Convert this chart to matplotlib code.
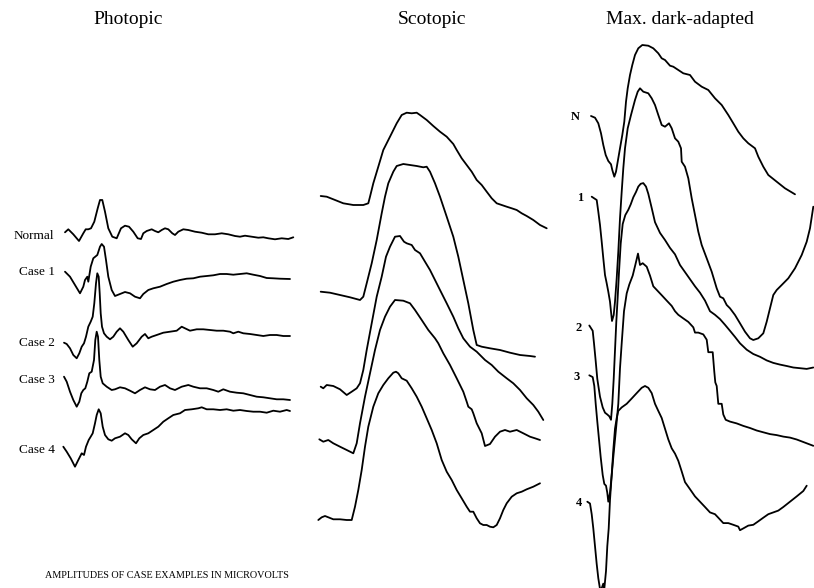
import matplotlib
matplotlib.use("Agg")
import matplotlib.pyplot as plt

# ---------------- data (traces: time -> amplitude) ----------------
panel_titles = ["Photopic", "Scotopic", "Max. dark-adapted"]
photopic_labels = ["Normal", "Case 1", "Case 2", "Case 3", "Case 4"]
dark_labels = ["N", "1", "2", "3", "4"]
footnote = "AMPLITUDES OF CASE EXAMPLES IN MICROVOLTS"

photopic_normal = [(65,232.3),(68.3,229.3),(73.3,234.3),(79,241),(83.3,233.3),(85.7,229.3),(88.3,229.3),(91,228.3),
    (94.3,221.7),(97.7,208.3),(100,200),(102.3,200),(105,211.7),(108.3,228.3),(112.3,236.7),(116.7,238.3),(121,228.3),
    (125,225.7),(129,226.7),(133.3,231.7),(137.7,238.3),(141,239),(143.3,233.3),(146.7,231),(151.7,229.3),(155,231),
    (158.3,232.3),(161.7,230),(165,228.3),(168.3,229.3),(172.3,233.3),(175,235),(178.3,231.7),(183.3,229.3),(188.3,230),
    (195,231.7),(201.7,232.7),(208.3,234.3),(215,234.3),(221.7,233.3),(228.3,234.3),(235,236),(240,236.7),(245,235.7),
    (251.7,236.7),(258.3,237.7),(263.3,237.3),(268.3,238.3),(275,239.3),(281.7,238.3),(288.3,239),(293.3,237.3)]
photopic_case1 = [(65,271.7),(70,276.7),(75,285),(80,293.3),(83.3,286.7),(85,280),(87.3,276.7),(88.3,281.7),(90.7,266.7),
    (93.3,258.3),(97.3,255),(100,246.7),(101.7,244),(104,246.7),(106,260),(108.3,276.7),(111.7,290),(115,296),(120,294),
    (125,292),(130,293.3),(135,296.7),(140,298.3),(143.3,294),(148.3,290),(153.3,288.3),(160,286.7),(166.7,284),
    (173.3,281.7),(180,280),(186.7,278.7),(193.3,278.3),(200,276.7),(206.7,276),(213.3,275.3),(220,274),(226.7,274),
    (233.3,274.7),(240,274),(246.7,273.3),(253.3,274.7),(260,276),(266.7,278),(273.3,278.3),(280,278.7),(290,279)]
photopic_case2 = [(64,342.7),(66.7,344),(70,348.3),(73.3,355),(76.7,358.3),(79.3,353.3),(81.7,346.7),(84,343.3),(86,336.7),
    (88.3,326.7),(90.7,321.7),(92.7,316.7),(94.3,303.3),(96,283.3),(97.3,273.3),(98.7,276.7),(99.7,293.3),(100.7,313.3),
    (102,326.7),(104,333.3),(106.7,336.7),(110,339.3),(113.3,336.7),(116.7,331.7),(120,328.3),(123.3,331.7),(128.3,340),
    (132.7,346.7),(136.7,343.3),(141.7,336.7),(145,334),(148.3,338.3),(151.7,336.7),(156.7,335),(163.3,332.7),(170,331.7),
    (176.7,330.7),(181.7,326.7),(185,328.3),(190,330.7),(196.7,329.3),(203.3,329.3),(210,330),(216.7,330.7),(223.3,330.7),
    (230,331.7),(233.3,333.3),(238.3,331.7),(243.3,333.3),(250,334),(256.7,335),(263.3,336),(270,335),(276.7,335),
    (283.3,336),(290,336)]
photopic_case3 = [(64,376.7),(66.7,381.7),(70,391.7),(73.3,400),(76.7,406.7),(79.3,401.7),(81.3,393.3),(83.3,390),
    (85.3,388.3),(87.3,381.7),(89.3,373.3),(91.7,371.7),(94,360),(95.3,340),(96.7,331.7),(98,336.7),(99.3,360),
    (100.7,376.7),(102.7,383.3),(106.7,386.7),(111.7,390),(115,389.3),(120,387.3),(125,388.3),(130,390.7),(135,393.3),
    (140,390),(145,387.3),(150,389.3),(155,390),(160,386.7),(165,385),(170,388.3),(175,390),(181.7,386.7),(188.3,385),
    (193.3,386.7),(200,388.3),(206.7,388.3),(213.3,390),(218.3,391.7),(223.3,389.3),(230,391.7),(236.7,392.7),
    (243.3,393.3),(250,395),(256.7,396.7),(263.3,397.3),(270,398.3),(276.7,399.3),(283.3,399.3),(290,400)]
photopic_case4 = [(63.3,446.7),(66.7,451.7),(70.7,458.3),(75,466.7),(78.3,460),(81.7,453.3),(84,455),(86,446.7),
    (88.7,440),(90.7,436.7),(92.7,433.3),(95,423.3),(96.7,415),(98.7,409.3),(100.7,413.3),(102.7,426.7),(105,435),
    (108.3,439.3),(111.7,440.7),(115,438.3),(120,436.7),(125,433.3),(128.3,435),(131.7,439.3),(136,443.3),(139.3,438.3),
    (143.3,435),(148.3,433.3),(153.3,430),(158.3,426.7),(163.3,421.7),(168.3,418.3),(173.3,415),(180,413.3),(185,410),
    (191.7,409.3),(198.3,408.3),(201.7,407.3),(206.7,409.3),(213.3,409.3),(220,410),(226.7,409.3),(233.3,410.7),
    (240,410),(246.7,411),(253.3,411.7),(260,411.7),(266.7,412.7),(273.3,410.7),(280,411.7),(286.7,410),(290,411)]

scotopic_normal = [(320.7,196),(326.7,196.7),(333.3,199.3),(343.3,203.3),(353.3,205),(363.3,205),(368.3,203.3),(370,196.7),
    (373.3,183.3),(378.3,166.7),(383.3,150),(390,136.7),(396.7,123.3),(401.7,115),(406.7,112.7),(411.7,113.3),
    (416.7,112.7),(420,115),(426.7,120),(433.3,126),(440,131.7),(446.7,136.7),(453.3,144),(456.7,150),(461.7,158.3),
    (466.7,165),(471.7,171.7),(476.7,180),(481.7,185),(486.7,191.7),(491.7,198.3),(496.7,203.3),(501.7,205),
    (506.7,206.7),(511.7,208.3),(516.7,210),(521.7,213.3),(526.7,216),(533.3,220),(540,225),(546.7,228.3)]
scotopic_case1 = [(320.7,291.7),(330,292.7),(340,295),(350,297.3),(360,300),(363.3,296.7),(366.7,283.3),(371.7,263.3),
    (376.7,240),(381.7,213.3),(385,196.7),(388.3,183.3),(393.3,171.7),(396.7,166),(403.3,164),(410,165),(416.7,166),
    (423.3,167.3),(426.7,166.7),(430,171.7),(435,183.3),(440,196.7),(446.7,216.7),(453.3,236.7),(458.3,256.7),
    (463.3,280),(468.3,303.3),(473.3,330),(476.7,345),(481.7,346.7),(490,348.3),(500,350),(510,352.7),(520,355),
    (530,356),(535,356.7)]
scotopic_case2 = [(320.7,386.7),(323.3,388.3),(326.7,385),(333.3,386),(340,389.3),(346.7,395),(351.7,391.7),(356.7,388.3),
    (360,383.3),(363.3,370),(366.7,350),(371.7,323.3),(376.7,296.7),(381.7,276.7),(386,256.7),(390,246.7),(395,236.7),
    (400,236),(404,241.7),(406.7,243.3),(411.7,245),(415,250),(420,253.3),(425,261.7),(430,270),(435,280),(440,290),
    (446.7,303.3),(453.3,316.7),(458.3,328.3),(463.3,338.3),(470,346.7),(476.7,351.7),(485,360),(491.7,365),
    (498.3,371.7),(506.7,378.3),(513.3,383.3),(520,390),(526.7,398.3),(533.3,405),(538.3,411.7),(543.3,420)]
scotopic_case3 = [(319.3,439.3),(323.3,441.7),(328.3,440),(333.3,443.3),(340,446.7),(346.7,450),(353.3,453.3),
    (356.7,443.3),(360,423.3),(365,396.7),(370,373.3),(375,350),(380,330),(385,316.7),(390,306.7),(395,300),
    (403.3,300.7),(410,303.3),(415,310),(421.7,320),(428.3,330),(435,338.3),(438.3,343.3),(443.3,353.3),(450,365),
    (456.7,378.3),(463.3,391.7),(466.7,401.7),(468.3,406.7),(471.7,409.3),(473.3,413.3),(476.7,423.3),(481.7,433.3),
    (485,446),(490,444),(495,436.7),(500,431.7),(505,430),(510,431.7),(516.7,430),(523.3,433.3),(530,436.7),
    (535,438.3),(540,440)]
scotopic_case4 = [(318.3,520),(321.7,517.3),(325,516),(328.3,517.3),(333.3,519.3),(340,519.3),(346.7,520),(351.7,520),
    (355,506.7),(358.3,490),(361.7,470),(365,446.7),(368.3,426.7),(373.3,406.7),(378.3,393.3),(383.3,385),(388.3,378.3),
    (393.3,372.7),(396,371.7),(398.3,373.3),(401.7,378.3),(406.7,380.7),(411.7,388.3),(416.7,396.7),(421.7,406.7),
    (426.7,418.3),(431.7,430),(436.7,443.3),(441.7,460),(446.7,471.7),(451.7,480),(456.7,490),(461.7,498.3),
    (466.7,506.7),(470,511.7),(473.3,511.7),(476.7,518.3),(480,523.3),(483.3,525),(486.7,525),(490,526.7),(493.3,527.3),
    (496.7,525),(500,518.3),(503.3,510),(506.7,503.3),(511.7,496.7),(516.7,493.3),(521.7,491.7),(526.7,489.3),
    (533.3,486.7),(540,483.3)]

dark_normal = [(591,116),(595,117.7),(598.3,123.3),(601,133.3),(603.3,145),(605.7,155),(608.3,161),(611,164.3),
    (612.3,170),(614.3,176.7),(616,171.7),(617.7,161.7),(620,148.3),(622.3,135),(624.3,121.7),(626,101.7),(627.7,88.3),
    (630,75),(632.3,65),(635,55),(638.3,48.3),(642.3,45),(648.3,45.7),(653.3,48.3),(658.3,53.3),(661.7,58.3),(665,60),
    (670,65.7),(673.3,66.7),(678.3,70),(683.3,73.3),(690,75),(695,81.7),(701.7,86.7),(708.3,90),(715,98.3),(721.7,105),
    (728.3,115),(733.3,123.3),(738.3,131.7),(743.3,138.3),(748.3,143.3),(755,148.3),(758.3,156.7),(763.3,166.7),
    (768.3,175),(776.7,181.7),(785,188.3),(795,194.3)]
dark_case1 = [(591.7,196.7),(596.7,200),(598.3,211.7),(600,225),(601.7,241.7),(603.3,258.3),(605,275),(606.7,283.3),
    (608.3,291.7),(610,301.7),(611,311.7),(612,321),(613.7,315),(615,301.7),(616.7,278.3),(618.3,251.7),(620,218.3),
    (621.7,191.7),(623.3,168.3),(625,148.3),(627.7,128.3),(631,115),(635,100),(637.7,91.7),(640,88.3),(643.3,91.7),
    (648.3,93.3),(651.7,98.3),(655,105),(658.3,115),(661.7,125),(665,126.7),(669,123.3),(671.7,128.3),(675,138.3),
    (678.3,141.7),(681,148.3),(681.7,161.7),(685,166.7),(688.3,178.3),(691.7,198.3),(695,215),(698.3,231.7),
    (701.7,245),(706.7,258.3),(711.7,271.7),(716.7,288.3),(720,296.7),(723.3,298.3),(726.7,305),(730,308.3),(735,315),
    (740,323.3),(745,331.7),(750,338.3),(753.3,340),(758.3,338.3),(763.3,333.3),(766.7,321.7),(770,308.3),(773.3,295),
    (776.7,290),(781.7,285),(788.3,278.3),(795,268.3),(801.7,255),(806.7,241.7),(810,228.3),(813.3,206.7)]
dark_case2 = [(589.3,325.5),(592.7,330.8),(594,343.3),(595.7,361.1),(597.3,378.9),(600,396.7),(602.7,407.4),(605,412.7),
    (607.3,414.5),(609.3,416.3),(611,419.8),(612.3,403.8),(613.7,378.9),(615,350.4),(616.3,321.9),(617.7,297),
    (619,272.1),(620.7,243.6),(622.7,224),(625.3,215.1),(628.3,209.8),(630.7,204.4),(633.3,197.3),(636,192),
    (638.3,186.6),(640.7,183.8),(643.3,183.1),(646,186.6),(648.3,193.8),(651.7,208),(655,222.2),(660,232.9),(665,240),
    (670,247.9),(675,254.3),(680,265),(685,272.1),(690,279.2),(695,286.3),(700,292.7),(705,300.6),(710,311.2),
    (715,314.8),(720,319.1),(725,324.8),(730,330.8),(735,336.9),(740,343.3),(746.7,349.7),(753.3,354),(760,356.8),
    (766.7,360.4),(773.3,362.9),(780,364.6),(786.7,366),(793.3,367.5),(800,368.2),(806.7,368.9),(813.3,367.5)]
dark_case3 = [(589.3,375.3),(592.7,377.1),(594.3,386),(595.7,403.8),(597.3,421.6),(599,439.4),(600.7,457.2),(602.7,475),
    (604.3,483.9),(606,485.7),(607.3,492.8),(608.3,501.7),(610,492.8),(611.7,475),(613.3,457.2),(615,439.4),
    (616.7,421.6),(618.3,403.8),(620,368.2),(621.7,343.3),(624,311.2),(626.7,293.4),(629.3,284.5),(632.7,275.6),
    (635.3,265),(638,253.6),(640,265),(642.7,263.2),(646.7,266.7),(650,275.6),(653.3,286.3),(656.7,289.9),(661.7,295.2),
    (666.7,300.6),(671.7,305.9),(675,311.2),(678.3,314.8),(683.3,318.4),(688.3,321.9),(693.3,327.3),(695,332.6),
    (698.3,332.6),(703.3,334.4),(706.7,339.7),(708.3,352.2),(712.7,352.2),(714.3,371.8),(715.3,382.4),(716.7,386),
    (718.3,403.8),(721.7,403.8),(723.3,414.5),(725.7,419.8),(730,421.6),(736.7,423.4),(743.3,425.9),(750,428),
    (756.7,430.5),(763.3,432.3),(770,434.1),(776.7,435.1),(783.3,436.6),(790,437.6),(796.7,439.5),(803.3,442),
    (813.3,445.8)]
dark_case4 = [(587.3,501.7),(590,503.5),(591.7,514.2),(593.3,528.4),(595,546.2),(596.7,564),(598.3,578.2),(600,588.9),
    (601.7,588.2),(603.3,583.6),(604.3,588.9),(606,571.1),(607.3,546.2),(608.7,528.4),(610,499.9),(611.7,475),
    (613.3,450.1),(615,428.7),(616.7,418),(618.3,410.9),(621.7,407.4),(626.7,403.8),(631.7,398.5),(636.7,393.1),
    (641.7,387.8),(645,386),(648.3,387.8),(651.7,393.1),(655,403.8),(658.3,410.9),(661.7,418),(665,428.7),(668.3,439.4),
    (671.7,448.3),(675,453.6),(678.3,460.8),(681.7,471.4),(685,482.1),(690,489.2),(695,496.4),(700,501.7),(705,507),
    (710,512.4),(715,514.2),(718.3,517.7),(723.3,523.1),(728.3,523.1),(733.3,524.8),(738.3,526.6),(740,530.2),
    (743.3,528.4),(748.3,525.6),(753.3,524.8),(758.3,521.3),(763.3,517.7),(768.3,514.2),(773.3,512.4),(778.3,510.6),
    (783.3,507),(790,501.7),(796.7,496.4),(803.3,491),(806.7,485.7)]

# ---------------- layout / style ----------------
traces = [photopic_normal, photopic_case1, photopic_case2, photopic_case3, photopic_case4,
          scotopic_normal, scotopic_case1, scotopic_case2, scotopic_case3, scotopic_case4,
          dark_normal, dark_case1, dark_case2, dark_case3, dark_case4]
title_pos = [(128, 20), (432, 20), (680, 20)]
photopic_label_pos = [(54, 236), (55, 272), (55, 343), (55, 380), (55, 450)]
dark_label_pos = [(580, 117), (583, 198), (582, 328), (580, 377), (582, 503)]

serif = ["Liberation Serif", "DejaVu Serif"]

fig = plt.figure(figsize=(8.14, 5.88), dpi=100)
ax = fig.add_axes([0, 0, 1, 1])
ax.set_xlim(0, 814)
ax.set_ylim(588, 0)
ax.axis("off")

for tr in traces:
    xs, ys = zip(*tr)
    ax.plot(xs, ys, color="black", lw=1.3, solid_joinstyle="round", solid_capstyle="round")

for t, (x, y) in zip(panel_titles, title_pos):
    ax.text(x, y, t, family=serif, fontsize=14, ha="center", va="center")
for t, (x, y) in zip(photopic_labels, photopic_label_pos):
    ax.text(x, y, t, family=serif, fontsize=9.5, ha="right", va="center")
for t, (x, y) in zip(dark_labels, dark_label_pos):
    ax.text(x, y, t, family=serif, fontsize=9, fontweight="bold", ha="right", va="center")
ax.text(45, 575, footnote, family=serif, fontsize=7.3, ha="left", va="center")

fig.savefig("out.png", dpi=100)
